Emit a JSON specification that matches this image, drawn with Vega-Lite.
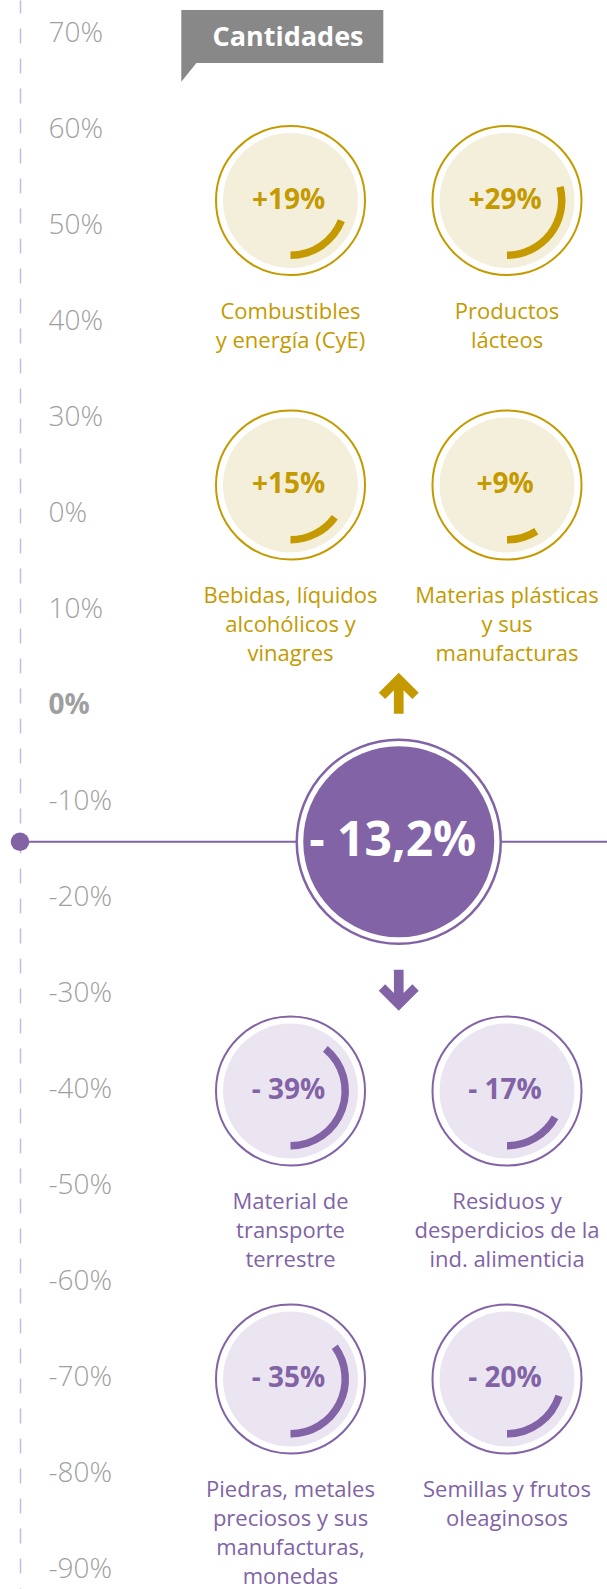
{
  "$schema": "https://vega.github.io/schema/vega-lite/v6.json",
  "width": 607,
  "height": 1589,
  "padding": 0,
  "autosize": {"type": "none"},
  "background": "#ffffff",
  "config": {"view": {"stroke": null}, "font": "Open Sans"},
  "layer": [
    {
      "data": {"values": [{"variacion": -13.2, "texto": "- 13,2%"}]},
      "encoding": {
        "y": {
          "field": "variacion",
          "type": "quantitative",
          "scale": {"domain": [-91.042, 74.479], "nice": false, "zero": false},
          "axis": {
            "orient": "left",
            "offset": -20,
            "values": [70, 60, 50, 40, 30, 20, 10, 0, -10, -20, -30, -40, -50, -60, -70, -80, -90],
            "labelExpr": "datum.value == 20 ? '0%' : datum.value + '%'",
            "ticks": false,
            "grid": false,
            "title": null,
            "labelAlign": "left",
            "labelBaseline": "middle",
            "labelPadding": -28,
            "labelOffset": -9,
            "labelFont": "Open Sans",
            "labelFontSize": 28,
            "labelFontWeight": {"condition": {"test": "datum.value == 0", "value": "bold"}, "value": 300},
            "labelColor": "#9f9f9f",
            "labelOverlap": false,
            "labelBound": false,
            "labelFlush": false,
            "domainColor": "#c8badf",
            "domainWidth": 1.5,
            "domainDash": [15, 15],
            "domainDashOffset": 14
          }
        }
      },
      "layer": [
        {
          "mark": {"type": "rule", "color": "#8163a6", "strokeWidth": 2},
          "encoding": {
            "x": {"datum": 0, "type": "quantitative", "scale": {"domain": [0, 1, 2], "range": [20, 290.5, 507], "nice": false, "zero": false}, "axis": null},
            "x2": {"value": "width"}
          }
        },
        {
          "mark": {"type": "point", "shape": "circle", "filled": true, "opacity": 1, "color": "#8163a6", "size": 346},
          "encoding": {"x": {"datum": 0, "type": "quantitative", "axis": null}}
        },
        {
          "mark": {"type": "point", "shape": "circle", "filled": true, "opacity": 1, "fill": "#ffffff", "stroke": "#8163a6", "strokeWidth": 2.5, "size": 41616},
          "encoding": {"x": {"datum": 1.5, "type": "quantitative", "axis": null}}
        },
        {
          "mark": {"type": "point", "shape": "circle", "filled": true, "opacity": 1, "fill": "#8163a6", "strokeWidth": 0, "size": 36481},
          "encoding": {"x": {"datum": 1.5, "type": "quantitative", "axis": null}}
        },
        {
          "mark": {"type": "text", "font": "Open Sans", "fontSize": 48, "fontWeight": "bold", "color": "#ffffff", "dx": -6, "baseline": "middle", "align": "center"},
          "encoding": {"x": {"datum": 1.5, "type": "quantitative", "axis": null}, "text": {"field": "texto"}}
        },
        {
          "mark": {"type": "point", "shape": "M0,-0.952L0.952,0L0.648,0.305L0.231,-0.112L0.231,1L-0.231,1L-0.231,-0.112L-0.648,0.305L-0.952,0Z", "filled": true, "opacity": 1, "color": "#c49a00", "strokeWidth": 0, "size": 1764, "yOffset": -149},
          "encoding": {"x": {"datum": 1.5, "type": "quantitative", "axis": null}}
        },
        {
          "mark": {"type": "point", "shape": "M0,0.952L0.952,0L0.648,-0.305L0.231,0.112L0.231,-1L-0.231,-1L-0.231,0.112L-0.648,-0.305L-0.952,0Z", "filled": true, "opacity": 1, "color": "#8163a6", "strokeWidth": 0, "size": 1764, "yOffset": 149},
          "encoding": {"x": {"datum": 1.5, "type": "quantitative", "axis": null}}
        }
      ]
    },
    {
      "data": {
        "values": [
          {"fila": 1, "columna": 1, "variacion": 19, "texto": "+19%", "etiqueta": "Combustibles\ny energía (CyE)"},
          {"fila": 1, "columna": 2, "variacion": 29, "texto": "+29%", "etiqueta": "Productos\nlácteos"},
          {"fila": 2, "columna": 1, "variacion": 15, "texto": "+15%", "etiqueta": "Bebidas, líquidos\nalcohólicos y\nvinagres"},
          {"fila": 2, "columna": 2, "variacion": 9, "texto": "+9%", "etiqueta": "Materias plásticas\ny sus\nmanufacturas"},
          {"fila": 3, "columna": 1, "variacion": -39, "texto": "- 39%", "etiqueta": "Material de\ntransporte\nterrestre"},
          {"fila": 3, "columna": 2, "variacion": -17, "texto": "- 17%", "etiqueta": "Residuos y\ndesperdicios de la\nind. alimenticia"},
          {"fila": 4, "columna": 1, "variacion": -35, "texto": "- 35%", "etiqueta": "Piedras, metales\npreciosos y sus\nmanufacturas,\nmonedas"},
          {"fila": 4, "columna": 2, "variacion": -20, "texto": "- 20%", "etiqueta": "Semillas y frutos\noleaginosos"}
        ]
      },
      "encoding": {
        "x": {"field": "columna", "type": "quantitative", "scale": {"domain": [0, 1, 2], "range": [20, 290.5, 507], "nice": false, "zero": false}, "axis": null},
        "y": {"field": "fila", "type": "quantitative", "scale": {"domain": [0, 1, 2, 3, 4], "range": [36.5, 200.5, 485, 1091, 1379], "nice": false, "zero": false}, "axis": null}
      },
      "layer": [
        {
          "data": {"values": [{"fila": 0, "columna": 1, "titulo": "Cantidades"}]},
          "layer": [
            {
              "mark": {"type": "point", "shape": "M-1,-0.262L1,-0.262L1,0.262L-0.85,0.262L-1,0.447Z", "filled": true, "opacity": 1, "color": "#888888", "strokeWidth": 0, "size": 40804, "xOffset": -8.2}
            },
            {
              "mark": {"type": "text", "font": "Open Sans", "fontSize": 27, "fontWeight": "bold", "color": "#ffffff", "baseline": "middle", "align": "center", "xOffset": -2.5, "yOffset": 1.5},
              "encoding": {"text": {"field": "titulo"}}
            }
          ]
        },
        {
          "mark": {"type": "point", "shape": "circle", "filled": true, "opacity": 1, "fill": "#ffffff", "strokeWidth": 2, "size": 22201},
          "encoding": {
            "stroke": {"condition": {"test": "datum.variacion > 0", "value": "#c49a00"}, "value": "#8163a6"}
          }
        },
        {
          "mark": {"type": "point", "shape": "circle", "filled": true, "opacity": 1, "strokeWidth": 0, "size": 18225},
          "encoding": {
            "fill": {"condition": {"test": "datum.variacion > 0", "value": "#f4efda"}, "value": "#ebe5f2"}
          }
        },
        {
          "mark": {"type": "arc", "radius": 58.5, "radius2": 51},
          "encoding": {
            "theta": {"field": "variacion", "type": "quantitative", "scale": {"type": "linear", "domain": [-100, 0, 100], "range": [-3.14159, 3.14159, -3.14159], "nice": false, "zero": false}},
            "theta2": {"datum": 0},
            "color": {"condition": {"test": "datum.variacion > 0", "value": "#c49a00"}, "value": "#8163a6"}
          }
        },
        {
          "mark": {"type": "text", "font": "Open Sans", "fontSize": 28, "fontWeight": "bold", "baseline": "middle", "align": "center", "dx": -2},
          "encoding": {
            "text": {"field": "texto"},
            "color": {"condition": {"test": "datum.variacion > 0", "value": "#c49a00"}, "value": "#8163a6"}
          }
        },
        {
          "mark": {"type": "text", "font": "Open Sans", "fontSize": 22, "lineBreak": "\n", "lineHeight": 29, "baseline": "alphabetic", "align": "center", "dy": 118},
          "encoding": {
            "text": {"field": "etiqueta"},
            "color": {"condition": {"test": "datum.variacion > 0", "value": "#c49a00"}, "value": "#8163a6"}
          }
        }
      ]
    }
  ],
  "resolve": {"scale": {"y": "independent"}}
}
